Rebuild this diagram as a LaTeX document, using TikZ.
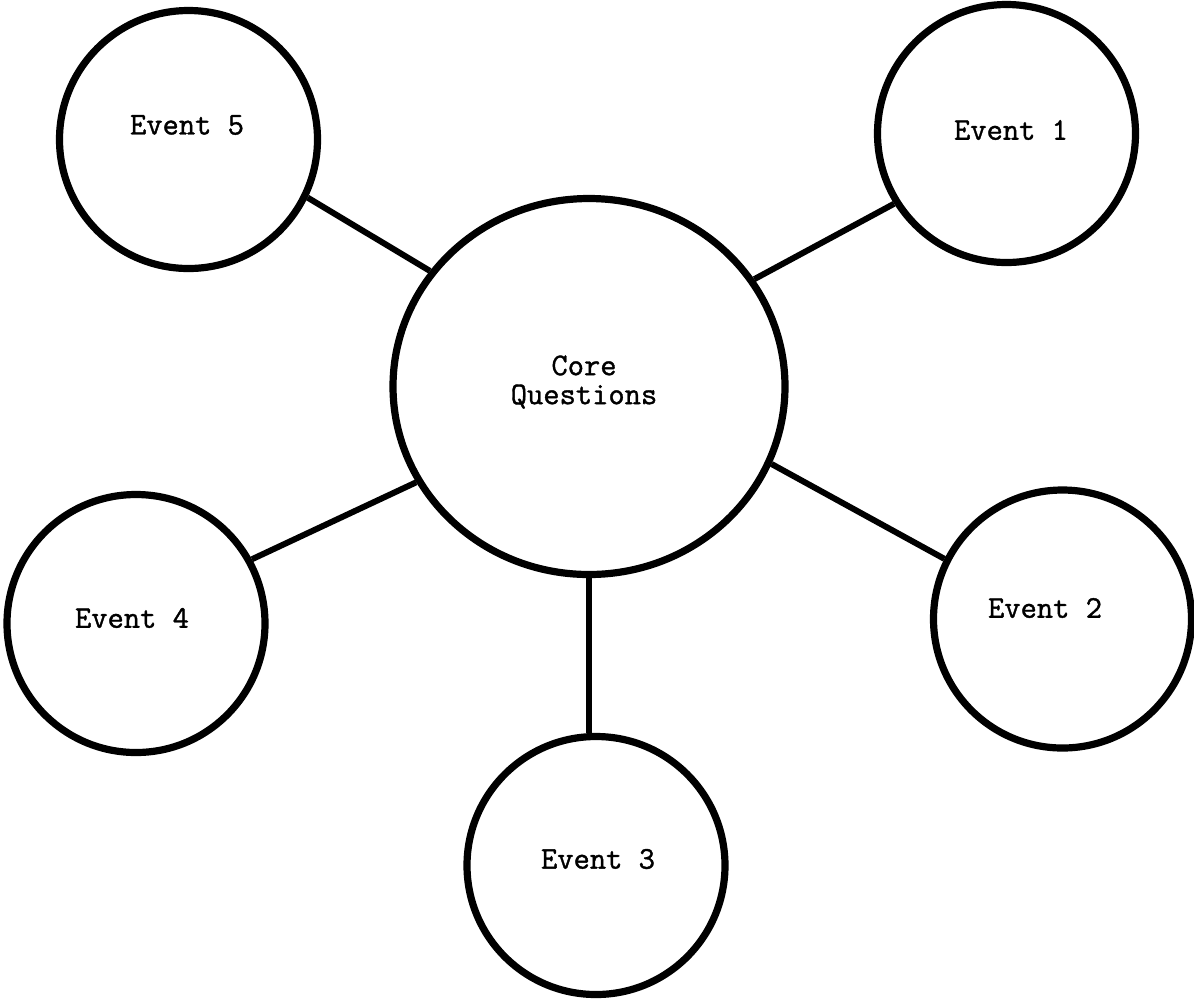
\documentclass[tikz,border=0pt]{standalone}
\usepackage{fontspec}
\usetikzlibrary{shapes.geometric}
\newfontfamily\typewriter[FakeBold=1.2]{Latin Modern Mono}
\begin{document}
\begin{tikzpicture}[x=0.5pt,y=-0.5pt,
  hub/.style={ellipse,draw,line width=3.6pt,minimum width=196pt,minimum height=188pt,inner sep=0pt},
  evt/.style={circle,draw,line width=3.6pt,minimum size=129pt,inner sep=0pt},
  txt/.style={font=\typewriter\fontsize{15.8}{14.5}\selectfont,align=center,inner sep=0pt},
  link/.style={line width=3pt}]
\useasboundingbox (0,0) rectangle (1194,998);

% circles
\node[hub] (core) at (589,386.5) {};
\node[evt] (e1) at (1006.5,133.5) {};
\node[evt] (e2) at (1062.5,619) {};
\node[evt] (e3) at (596,865.5) {};
\node[evt] (e4) at (136,623.5) {};
\node[evt] (e5) at (188.5,139.5) {};

% labels
\node[txt] (tc) at (584,382) {Core\\Questions};
\node[txt] (t1) at (1011,130) {Event 1};
\node[txt] (t2) at (1045,608) {Event 2};
\node[txt] (t3) at (598,859) {Event 3};
\node[txt] (t4) at (132,618) {Event 4};
\node[txt] (t5) at (187,125) {Event 5};

% spokes
\draw[link] (core.144.6) -- (e5.-26.9);
\draw[link] (core.33.5) -- (e1.212.6);
\draw[link] (core.209.4) -- (e4.29.8);
\draw[link] (core.-23.9) -- (e2.153);
\draw[link] (core.south) -- (core.south |- e3.north);
\end{tikzpicture}
\end{document}
